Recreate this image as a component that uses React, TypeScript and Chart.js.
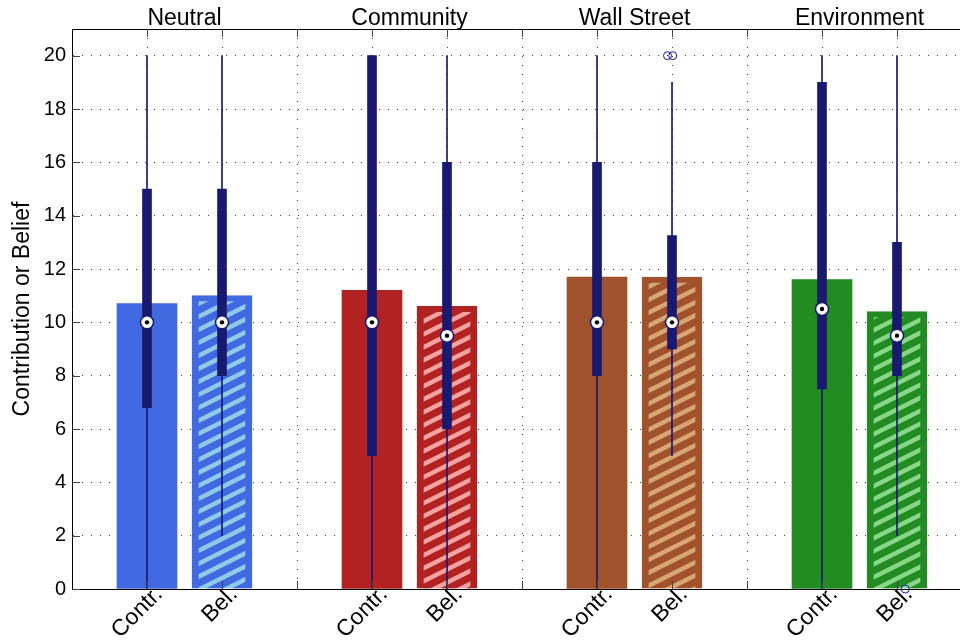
import React, { useEffect, useRef } from 'react';
import { Chart, registerables } from 'chart.js';
Chart.register(...registerables);

const groups = ['Neutral', 'Community', 'Wall Street', 'Environment'];
const conditions = ['Contr.', 'Bel.'];
const contrMeans = [10.7, 11.2, 11.7, 11.6];
const belMeans = [11.0, 10.6, 11.7, 10.4];
const contrQ1 = [6.8, 5, 8, 7.5];
const contrQ3 = [15, 20, 16, 19];
const contrMedian = [10, 10, 10, 10.5];
const contrLow = [0, 0, 0, 0];
const contrHigh = [20, 20, 20, 20];
const belQ1 = [8, 6, 9, 8];
const belQ3 = [15, 16, 13.25, 13];
const belMedian = [10, 9.5, 10, 9.5];
const belLow = [2, 0, 5, 2];
const belHigh = [20, 20, 19, 20];
// outliers (all in the "Bel." condition): group index, jitter, value
const outlierGroup = [2, 2, 3];
const outlierJitter = [-0.06, 0.01, 0.11];
const outlierValue = [20, 20, 0];
const yTicks = [0, 2, 4, 6, 8, 10, 12, 14, 16, 18, 20];

const baseColors = ['#4169E1', '#B22222', '#A0522D', '#228B22'];
const hatchColors = ['#8FCBE6', '#F4A3A0', '#D9A673', '#86D886'];
const boxColor = '#191970';

const pos = (g: number, c: number) => g * 3 + 1 + c;
const xTickValues = [1, 2, 3, 4, 5, 6, 7, 8, 9, 10, 11];
const groupCenters = groups.map((_, g) => g * 3 + 1.5);

function hatch(base: string, stripe: string) {
  const c = document.createElement('canvas');
  const W = 26, H = 13;
  c.width = W; c.height = H;
  const ctx = c.getContext('2d')!;
  ctx.fillStyle = base;
  ctx.fillRect(0, 0, W, H);
  ctx.strokeStyle = stripe;
  ctx.lineWidth = 4.5;
  for (let k = -2; k <= 2; k++) {
    ctx.beginPath();
    ctx.moveTo(-W, H + W * 0.5 + k * H);
    ctx.lineTo(2 * W, H - W + k * H);
    ctx.stroke();
  }
  return ctx.createPattern(c, 'repeat')!;
}

const innerTicks = {
  id: 'innerTicks',
  afterDatasetsDraw(chart: any) {
    const { ctx, chartArea, scales } = chart;
    ctx.save();
    ctx.strokeStyle = '#444';
    ctx.lineWidth = 1;
    ctx.beginPath();
    scales.y.ticks.forEach((t: any) => {
      const py = Math.round(scales.y.getPixelForValue(t.value)) + 0.5;
      ctx.moveTo(chartArea.left, py);
      ctx.lineTo(chartArea.left + 8, py);
    });
    scales.x.ticks.forEach((t: any) => {
      const px = Math.round(scales.x.getPixelForValue(t.value)) + 0.5;
      ctx.moveTo(px, chartArea.top);
      ctx.lineTo(px, chartArea.top + 8);
      ctx.moveTo(px, chartArea.bottom);
      ctx.lineTo(px, chartArea.bottom - 8);
    });
    ctx.stroke();
    ctx.restore();
  },
};

export default function App() {
  const ref = useRef<HTMLCanvasElement>(null);
  useEffect(() => {
    Chart.defaults.font.family = '"Liberation Sans", Arial, sans-serif';
    Chart.defaults.color = '#000';
    const patterns = groups.map((_, g) => hatch(baseColors[g], hatchColors[g]));
    const contrPts = (arr: number[]) => arr.map((v, g) => ({ x: pos(g, 0), y: v }));
    const belPts = (arr: number[]) => arr.map((v, g) => ({ x: pos(g, 1), y: v }));
    const whiskers = [
      ...groups.map((_, g) => ({ x: pos(g, 0), y: [contrLow[g], contrHigh[g]] })),
      ...groups.map((_, g) => ({ x: pos(g, 1), y: [belLow[g], belHigh[g]] })),
    ];
    const boxes = [
      ...groups.map((_, g) => ({ x: pos(g, 0), y: [contrQ1[g], contrQ3[g]] })),
      ...groups.map((_, g) => ({ x: pos(g, 1), y: [belQ1[g], belQ3[g]] })),
    ];
    const medians = [...contrPts(contrMedian), ...belPts(belMedian)];
    const outliers = outlierGroup.map((g, i) => ({ x: pos(g, 1) + outlierJitter[i], y: outlierValue[i] }));

    const chart = new Chart(ref.current!, {
      type: 'bar',
      data: {
        datasets: [
          {
            type: 'bar', data: contrPts(contrMeans) as any, backgroundColor: baseColors,
            barThickness: 60, grouped: false, order: 10, xAxisID: 'x', yAxisID: 'y',
          } as any,
          {
            type: 'bar', data: belPts(belMeans) as any, backgroundColor: patterns,
            borderColor: baseColors, borderWidth: { top: 6, left: 7, right: 7, bottom: 0 },
            borderSkipped: false,
            barThickness: 60, grouped: false, order: 9, xAxisID: 'x', yAxisID: 'y',
          } as any,
          {
            type: 'bar', data: whiskers as any, backgroundColor: boxColor,
            barThickness: 1, grouped: false, order: 8, xAxisID: 'x', yAxisID: 'y',
          } as any,
          {
            type: 'bar', data: boxes as any, backgroundColor: boxColor,
            barThickness: 9, grouped: false, order: 7, xAxisID: 'x', yAxisID: 'y',
          } as any,
          {
            type: 'scatter', data: outliers, showLine: false, pointStyle: 'circle',
            pointRadius: 4, pointBackgroundColor: 'rgba(0,0,0,0)', pointBorderColor: '#1a1aa0',
            pointBorderWidth: 1, order: 6, clip: false, xAxisID: 'x', yAxisID: 'y',
          } as any,
          {
            type: 'scatter', data: medians, showLine: false, pointStyle: 'circle',
            pointRadius: 6.5, pointBackgroundColor: '#fff', pointBorderColor: boxColor,
            pointBorderWidth: 1.5, order: 5, xAxisID: 'x', yAxisID: 'y',
          } as any,
          {
            type: 'scatter', data: medians, showLine: false, pointStyle: 'circle',
            pointRadius: 2.2, pointBackgroundColor: '#000', pointBorderWidth: 0,
            order: 4, xAxisID: 'x', yAxisID: 'y',
          } as any,
        ],
      },
      options: {
        animation: false,
        responsive: false,
        maintainAspectRatio: false,
        layout: { padding: 0, autoPadding: false },
        plugins: { legend: { display: false }, tooltip: { enabled: false } },
        scales: {
          x: {
            type: 'linear', position: 'bottom', min: 0, max: 11.84, offset: false,
            afterBuildTicks: (s: any) => { s.ticks = xTickValues.map((v) => ({ value: v })); },
            afterFit: (s: any) => { s.height = 51; s.paddingRight = 0; s.paddingLeft = 0; },
            ticks: {
              autoSkip: false, maxRotation: 45, minRotation: 45, padding: -8, labelOffset: 12,
              font: { size: 23 },
              callback: (v: any) => (v % 3 === 0 ? '' : conditions[(v % 3) - 1]),
            },
            grid: { color: 'rgba(0,0,0,0.75)', lineWidth: 1, drawTicks: false, offset: false },
            border: { display: true, color: '#000', width: 1, dash: [1, 8] },
          },
          x2: {
            type: 'linear', position: 'top', min: 0, max: 11.84, offset: false,
            afterBuildTicks: (s: any) => { s.ticks = groupCenters.map((v) => ({ value: v })); },
            afterFit: (s: any) => { s.height = 29; s.paddingRight = 0; s.paddingLeft = 0; },
            ticks: {
              autoSkip: false, maxRotation: 0, minRotation: 0, padding: -3,
              font: { size: 23 },
              callback: (_v: any, i: number) => groups[i],
            },
            grid: { display: false, drawTicks: false, offset: false },
            border: { display: true, color: '#000', width: 1 },
          },
          y: {
            type: 'linear', min: 0, max: 21,
            afterBuildTicks: (s: any) => { s.ticks = yTicks.map((v) => ({ value: v })); },
            afterFit: (s: any) => { s.width = 72; },
            ticks: { padding: 6, font: { size: 20 } },
            grid: { color: 'rgba(0,0,0,0.75)', lineWidth: 1, drawTicks: false },
            border: { display: true, color: '#000', width: 1, dash: [1, 8] },
            title: {
              display: true, text: 'Contribution or Belief', font: { size: 23 },
              padding: { top: 9, bottom: 0 },
            },
          },
        },
      } as any,
      plugins: [innerTicks],
    });
    return () => chart.destroy();
  }, []);
  return (
    <div style={{ position: 'absolute', left: 0, top: 0, width: 960, height: 640, background: '#fff' }}>
      <canvas ref={ref} width={960} height={640} />
    </div>
  );
}
